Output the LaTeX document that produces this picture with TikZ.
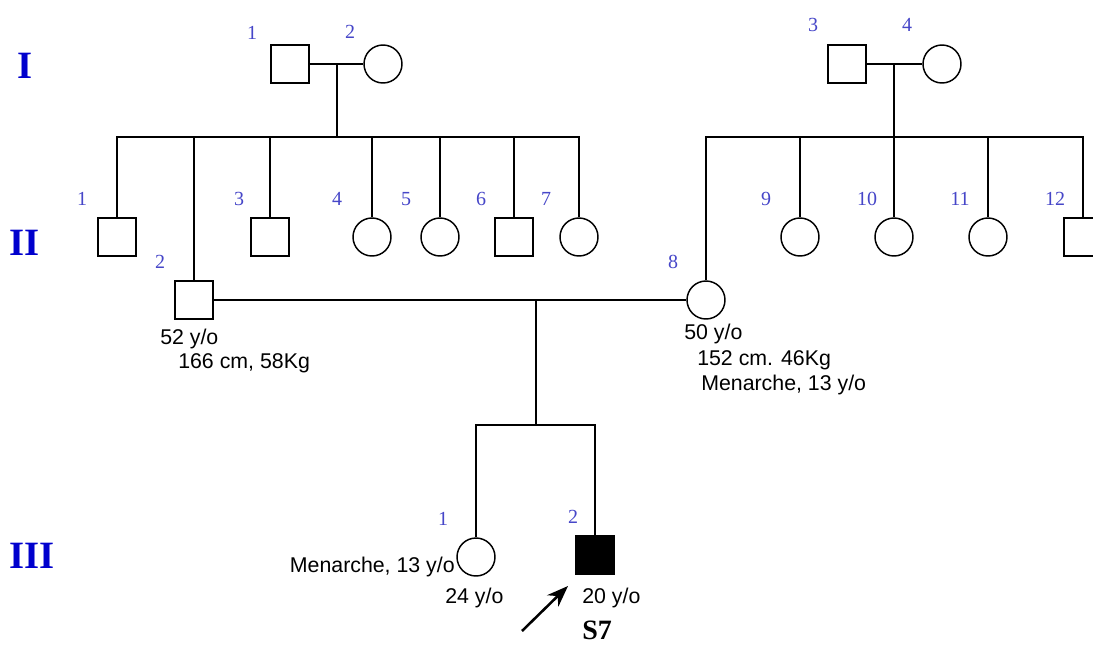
\documentclass[tikz,border=0pt]{standalone}
\usepackage{fontspec}
\setmainfont{Liberation Serif}
\setsansfont{Liberation Sans}
\usepackage{tikz}
\usetikzlibrary{arrows.meta, positioning, calc}
\definecolor{idblue}{RGB}{70,70,200}
\definecolor{genblue}{RGB}{0,0,205}
\tikzset{
    male/.style={
        rectangle, draw=black, line width=1.1pt, fill=white,
        minimum size=28.5pt, inner sep=0pt
    },
    female/.style={
        circle, draw=black, line width=1.1pt, fill=white,
        minimum size=28.5pt, inner sep=0pt
    },
    affected_male/.style={
        male, fill=black
    },
    line_rel/.style={
        draw=black, line width=1.1pt
    },
    id_lbl/.style={
        font=\rmfamily\fontsize{15}{17}\selectfont, text=idblue, inner sep=0pt
    },
    gen_lbl/.style={
        font=\rmfamily\bfseries\fontsize{29}{31}\selectfont, text=genblue, inner sep=0pt
    },
    info_lbl/.style={
        font=\sffamily\fontsize{16}{18}\selectfont, text=black, inner sep=0pt, anchor=base west
    },
    proband_arrow/.style={
        -{Stealth[length=16pt, width=12pt]}, line width=1.9pt, draw=black
    }
}

\begin{document}
\begin{tikzpicture}[x=0.75pt, y=-0.75pt]
    \useasboundingbox (0,0) rectangle (1093,644);

    % --- Generation labels ---
    \node[gen_lbl] (genI) at (25,66) {I};
    \node[gen_lbl] (genII) at (25,243) {II};
    \node[gen_lbl] (genIII) at (32,556) {III};

    % --- Generation I ---
    \node[male] (I1) at (290,64) {};
    \node[female] (I2) at (383,64) {};
    \node[male] (I3) at (847,64) {};
    \node[female] (I4) at (942,64) {};

    \node[id_lbl] (idI1) at (252,33) {1};
    \node[id_lbl] (idI2) at (350,32) {2};
    \node[id_lbl] (idI3) at (813,25) {3};
    \node[id_lbl] (idI4) at (907,25) {4};

    % --- Generation II ---
    \node[male] (II1) at (117,237) {};
    \node[male] (II2) at (194,300) {};
    \node[male] (II3) at (270,237) {};
    \node[female] (II4) at (372,237) {};
    \node[female] (II5) at (440,237) {};
    \node[male] (II6) at (514,237) {};
    \node[female] (II7) at (579,237) {};
    \node[female] (II8) at (706,300) {};
    \node[female] (II9) at (800,237) {};
    \node[female] (II10) at (894,237) {};
    \node[female] (II11) at (988,237) {};
    \node[male] (II12) at (1083,237) {};

    \node[id_lbl] (idII1) at (82,199) {1};
    \node[id_lbl] (idII2) at (160,262) {2};
    \node[id_lbl] (idII3) at (239,199) {3};
    \node[id_lbl] (idII4) at (337,199) {4};
    \node[id_lbl] (idII5) at (406,199) {5};
    \node[id_lbl] (idII6) at (481,199) {6};
    \node[id_lbl] (idII7) at (546,199) {7};
    \node[id_lbl] (idII8) at (673,262) {8};
    \node[id_lbl] (idII9) at (766,199) {9};
    \node[id_lbl] (idII10) at (867,199) {10};
    \node[id_lbl] (idII11) at (960,199) {11};
    \node[id_lbl] (idII12) at (1055,199) {12};

    \node[info_lbl] (ageII2) at (160,344) {52 y/o};
    \node[info_lbl] (bodyII2) at (178,368) {166 cm, 58Kg};
    \node[info_lbl] (ageII8) at (684,339) {50 y/o};
    \node[info_lbl] (bodyII8) at (697,365) {152 cm. 46Kg};
    \node[info_lbl] (menII8) at (701,390) {Menarche, 13 y/o};

    % --- Generation III ---
    \node[female] (III1) at (476,557) {};
    \node[affected_male] (III2) at (595,555) {};

    \node[id_lbl] (idIII1) at (443,519) {1};
    \node[id_lbl] (idIII2) at (573,517) {2};

    \node[info_lbl, anchor=base east] (menIII1) at (455,572) {Menarche, 13 y/o};
    \node[info_lbl] (ageIII1) at (445,603) {24 y/o};
    \node[info_lbl] (ageIII2) at (582,603) {20 y/o};
    \node[font=\rmfamily\bfseries\fontsize{21}{23}\selectfont, inner sep=0pt, anchor=base west] (proband) at (582,639) {S7};

    % --- Mating and sibship hubs ---
    \coordinate (m1) at (337,64);
    \coordinate (h1) at (337,137);
    \coordinate (m2) at (894,64);
    \coordinate (h2) at (894,137);
    \coordinate (m3) at (536,300);
    \coordinate (h3) at (536,425);

    % --- Relationship lines ---
    \draw[line_rel] (I1) -- (I2);
    \draw[line_rel] (I3) -- (I4);
    \draw[line_rel] (II2) -- (II8);
    \draw[line_rel] (m1) -- (h1);
    \draw[line_rel] (m2) -- (h2);
    \draw[line_rel] (m3) -- (h3);

    % --- Descent lines ---
    \foreach \kid in {II1, II2, II3, II4, II5, II6, II7}
        \draw[line_rel] (h1) -| (\kid.north);
    \foreach \kid in {II8, II9, II10, II11, II12}
        \draw[line_rel] (h2) -| (\kid.north);
    \foreach \kid in {III1, III2}
        \draw[line_rel] (h3) -| (\kid.north);

    % --- Proband arrow ---
    \coordinate (arr_tail) at (522,631);
    \coordinate (arr_tip) at (568,586);
    \draw[proband_arrow] (arr_tail) -- (arr_tip);

\end{tikzpicture}
\end{document}
